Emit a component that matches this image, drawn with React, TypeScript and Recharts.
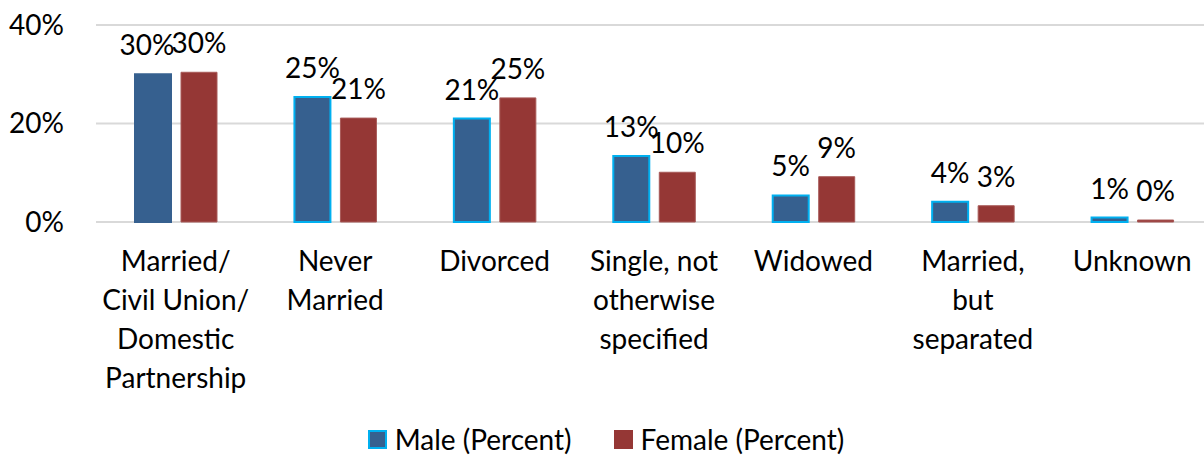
import { BarChart, Bar, XAxis, YAxis, CartesianGrid, Legend, LabelList, Cell } from "recharts";

const categories = [
  "Married/\nCivil Union/\nDomestic\nPartnership",
  "Never\nMarried",
  "Divorced",
  "Single, not\notherwise\nspecified",
  "Widowed",
  "Married,\nbut\nseparated",
  "Unknown",
];
const malePercent = [30.0, 25.4, 21.0, 13.4, 5.4, 4.1, 0.9];
const femalePercent = [30.4, 21.1, 25.2, 10.1, 9.2, 3.3, 0.4];
const yTicks = [0, 20, 40];

const data = categories.map((c, i) => ({ name: c, male: malePercent[i], female: femalePercent[i] }));

const FONT = "Lato, 'Noto Sans', sans-serif";
const SIZE = 28;
const MALE = "#36608f";
const FEMALE = "#953735";
const MALE_EDGE = "#00b0f0";

function CategoryTick(props: any) {
  const { x, y, payload } = props;
  const lines = String(payload.value).split("\n");
  return (
    <text x={x} y={y} textAnchor="middle" fontSize={SIZE} fontFamily={FONT} fill="#000">
      {lines.map((l, i) => (
        <tspan key={i} x={x} dy={i === 0 ? 41 : 39}>
          {l}
        </tspan>
      ))}
    </text>
  );
}

// Excel nudged the first male label left so it doesn't sit on top of its neighbour
function MaleLabel(props: any) {
  const { x, y, width, value, index } = props;
  const shift = index === 0 ? -6 : 0;
  return (
    <text x={x + width / 2 + shift} y={y - 19} textAnchor="middle" fontSize={SIZE} fontFamily={FONT} fill="#000">
      {`${Math.round(value)}%`}
    </text>
  );
}

function LegendContent() {
  const items = [
    { label: "Male (Percent)", fill: MALE, stroke: MALE_EDGE },
    { label: "Female (Percent)", fill: FEMALE, stroke: FEMALE },
  ];
  return (
    <div style={{ display: "flex", justifyContent: "center", gap: 42, fontFamily: FONT, fontSize: SIZE, lineHeight: "28px" }}>
      {items.map((it) => (
        <div key={it.label} style={{ display: "flex", alignItems: "center", gap: 8 }}>
          <span style={{ width: 15, height: 15, background: it.fill, border: `2px solid ${it.stroke}` }} />
          <span>{it.label}</span>
        </div>
      ))}
    </div>
  );
}

export default function App() {
  return (
    <div style={{ position: "absolute", left: 0, top: 0, width: 1204, height: 458, overflow: "hidden", background: "#fff" }}>
      <BarChart
        width={1212}
        height={458}
        data={data}
        margin={{ top: 25, right: 0, bottom: 6, left: 0 }}
        barGap={10}
        barSize={36}
      >
        <CartesianGrid vertical={false} stroke="#d9d9d9" strokeWidth={2} />
        <XAxis
          dataKey="name"
          axisLine={false}
          tickLine={false}
          interval={0}
          height={202}
          tick={<CategoryTick />}
        />
        <YAxis
          domain={[0, 40]}
          ticks={yTicks}
          width={96}
          axisLine={false}
          tickLine={false}
          tickSize={0}
          tickMargin={32}
          tickFormatter={(v: number) => `${v}%`}
          tick={{ fontSize: SIZE, fontFamily: FONT, fill: "#000" }}
        />
        <Legend verticalAlign="bottom" content={<LegendContent />} wrapperStyle={{ top: 425 }} />
        <Bar dataKey="male" fill={MALE} stroke={MALE_EDGE} strokeWidth={2} isAnimationActive={false}>
          {data.map((_, i) => (
            <Cell key={i} stroke={i === 0 ? MALE : MALE_EDGE} />
          ))}
          <LabelList dataKey="male" content={<MaleLabel />} />
        </Bar>
        <Bar dataKey="female" fill={FEMALE} stroke="#a85a58" strokeWidth={1} isAnimationActive={false}>
          <LabelList
            dataKey="female"
            position="top"
            offset={19}
            formatter={(v: any) => `${Math.round(v)}%`}
            style={{ fontSize: SIZE, fontFamily: FONT, fill: "#000" }}
          />
        </Bar>
      </BarChart>
    </div>
  );
}
